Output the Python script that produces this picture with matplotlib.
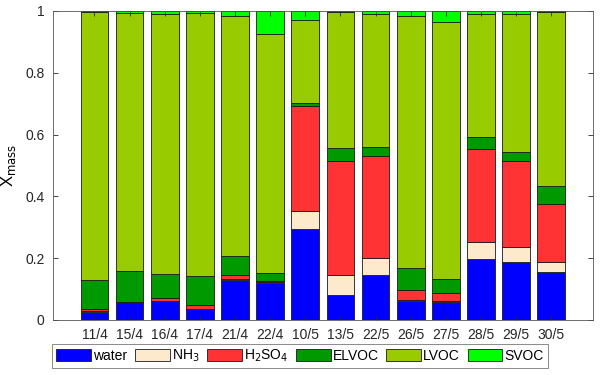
import matplotlib.pyplot as plt
import numpy as np

plt.rcParams['font.family'] = ['Liberation Sans', 'DejaVu Sans']

# sample dates
dates = ['11/4', '15/4', '16/4', '17/4', '21/4', '22/4', '10/5',
         '13/5', '22/5', '26/5', '27/5', '28/5', '29/5', '30/5']

# mass fractions per component
water = [0.027, 0.054, 0.061, 0.035, 0.131, 0.120, 0.294, 0.082, 0.145, 0.062, 0.058, 0.198, 0.189, 0.156]
nh3 = [0.002, 0.002, 0.001, 0.001, 0.002, 0.002, 0.059, 0.062, 0.057, 0.004, 0.004, 0.053, 0.048, 0.032]
h2so4 = [0.008, 0.002, 0.009, 0.012, 0.011, 0.005, 0.340, 0.369, 0.329, 0.031, 0.024, 0.303, 0.278, 0.187]
elvoc = [0.094, 0.099, 0.078, 0.095, 0.062, 0.024, 0.009, 0.045, 0.029, 0.071, 0.046, 0.039, 0.030, 0.057]
lvoc = [0.866, 0.836, 0.840, 0.852, 0.778, 0.774, 0.268, 0.439, 0.429, 0.816, 0.831, 0.398, 0.444, 0.565]
svoc = [0.003, 0.007, 0.011, 0.005, 0.016, 0.075, 0.030, 0.003, 0.011, 0.016, 0.037, 0.009, 0.011, 0.003]

series = [water, nh3, h2so4, elvoc, lvoc, svoc]
labels = ['water', 'NH$_3$', 'H$_2$SO$_4$', 'ELVOC', 'LVOC', 'SVOC']
colors = ['#0000FF', '#FDE9CB', '#FF3333', '#009900', '#99CC00', '#00FF00']

fig = plt.figure(figsize=(6, 3.75), dpi=100)
ax = fig.add_axes([0.0883, 0.1467, 0.8997, 0.824])

x = np.arange(1, len(dates) + 1)
bottom = np.zeros(len(dates))
for vals, lab, col in zip(series, labels, colors):
    ax.bar(x, vals, width=0.79, bottom=bottom, color=col, edgecolor='#1a1a1a',
           linewidth=0.6, label=lab)
    bottom += np.array(vals)

ax.set_xlim(-0.18, 15.18)
ax.set_ylim(0, 1)
ax.set_xticks(x)
ax.set_xticklabels(dates)
ax.set_yticks([0, 0.2, 0.4, 0.6, 0.8, 1])
ax.set_yticklabels(['0', '0.2', '0.4', '0.6', '0.8', '1'])
ax.tick_params(direction='in', top=True, right=True, length=3.5, width=0.6,
               labelsize=10, colors='#262626')
ax.tick_params(axis='x', pad=6)
ax.tick_params(axis='y', pad=6)
for s in ax.spines.values():
    s.set_color('#555555')
    s.set_linewidth(0.6)
ax.set_ylabel('X$_{\\mathrm{mass}}$', fontsize=12, labelpad=5)

leg = fig.legend(loc='center', bbox_to_anchor=(0.5, 1 - 356 / 375), ncol=6,
                 fontsize=10, frameon=True, fancybox=False, handlelength=2.5,
                 handleheight=1.0, handletextpad=0.15, columnspacing=0.55,
                 borderpad=0.3, borderaxespad=0)
leg.get_frame().set_edgecolor('#555555')
leg.get_frame().set_linewidth(0.6)

fig.savefig('out.png', dpi=100)
